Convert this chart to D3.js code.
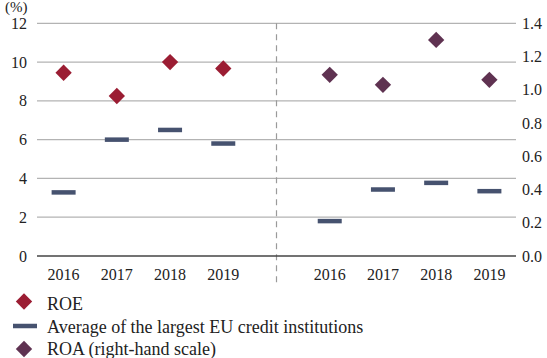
<!DOCTYPE html>
<html>
<head>
<meta charset="utf-8">
<script src="https://cdn.jsdelivr.net/npm/d3@7/dist/d3.min.js"></script>
<style>
  html, body { margin: 0; padding: 0; background: #fff; }
  svg { display: block; font-family: "Liberation Serif", "Times New Roman", serif; }
</style>
</head>
<body>
<svg id="chart" width="547" height="358"></svg>
<script>
// Years shown in each panel
const years = ["2016", "2017", "2018", "2019"];
// Left panel (%, left scale)
const roe = [9.45, 8.25, 10.0, 9.67];
const roeEuAvg = [3.28, 6.0, 6.5, 5.8];
// Right panel (%, right scale)
const roa = [1.09, 1.03, 1.30, 1.06];
const roaEuAvg = [0.21, 0.40, 0.44, 0.39];
// Axis ticks
const leftTicks = [0, 2, 4, 6, 8, 10, 12];
const rightTicks = [0, 0.2, 0.4, 0.6, 0.8, 1.0, 1.2, 1.4];
const legendItems = ["ROE", "Average of the largest EU credit institutions", "ROA (right-hand scale)"];

const colors = { roe: "#9b1d33", roa: "#5f3251", avg: "#46526f", grid: "#b3b3b3", axis: "#444" };

const svg = d3.select("#chart");
const m = { left: 37, right: 516, top: 23.3, bottom: 256 };

// Nine slots: four left-panel years, a divider slot, four right-panel years
const slots = years.map(y => "L" + y).concat(["gap"], years.map(y => "R" + y));
const x = d3.scaleBand().domain(slots).range([m.left, m.right]).paddingInner(0).paddingOuter(0);
const cx = k => x(k) + x.bandwidth() / 2;

const yL = d3.scaleLinear().domain([0, 12]).range([m.bottom, m.top]);
const yR = d3.scaleLinear().domain([0, 1.4]).range([m.bottom, m.top]);

// Gridlines
svg.append("g").selectAll("line").data(leftTicks.filter(t => t > 0)).join("line")
  .attr("x1", m.left).attr("x2", m.right)
  .attr("y1", d => yL(d)).attr("y2", d => yL(d))
  .attr("stroke", colors.grid).attr("stroke-width", 1.2);

// Divider between panels
svg.append("line")
  .attr("x1", cx("gap")).attr("x2", cx("gap"))
  .attr("y1", m.top).attr("y2", 285)
  .attr("stroke", "#9a9a9a").attr("stroke-width", 1.2)
  .attr("stroke-dasharray", "6,5");

// Zero line
svg.append("line")
  .attr("x1", m.left).attr("x2", m.right)
  .attr("y1", yL(0)).attr("y2", yL(0))
  .attr("stroke", colors.axis).attr("stroke-width", 1.5);

// Left axis
const leftAxis = svg.append("g").attr("transform", `translate(${m.left - 10},0)`)
  .call(d3.axisLeft(yL).tickValues(leftTicks).tickSize(0).tickPadding(0).tickFormat(d3.format("d")));
leftAxis.select(".domain").remove();
leftAxis.selectAll("text").attr("font-size", 16).attr("fill", "#222")
  .attr("font-family", "Liberation Serif, serif");

// Right axis
const rightAxis = svg.append("g").attr("transform", `translate(${m.right + 6},0)`)
  .call(d3.axisRight(yR).tickValues(rightTicks).tickSize(0).tickPadding(0).tickFormat(d3.format(".1f")));
rightAxis.select(".domain").remove();
rightAxis.selectAll("text").attr("font-size", 16).attr("fill", "#222")
  .attr("font-family", "Liberation Serif, serif");

// Unit label
svg.append("text").attr("x", 5).attr("y", 12).attr("font-size", 15).attr("fill", "#222").text("(%)");

// Year labels
const yearKeys = slots.filter(s => s !== "gap");
svg.append("g").selectAll("text").data(yearKeys).join("text")
  .attr("x", d => cx(d)).attr("y", 280)
  .attr("text-anchor", "middle").attr("font-size", 16).attr("fill", "#222")
  .text(d => d.slice(1));

const diamond = d3.symbol().type(d3.symbolDiamond2).size(170);
const barW = 24, barH = 4.5;

// Left panel: ROE and EU average
svg.append("g").selectAll("rect").data(roeEuAvg).join("rect")
  .attr("x", (d, i) => cx("L" + years[i]) - barW / 2)
  .attr("y", d => yL(d) - barH / 2)
  .attr("width", barW).attr("height", barH).attr("fill", colors.avg);
svg.append("g").selectAll("path").data(roe).join("path")
  .attr("d", diamond)
  .attr("transform", (d, i) => `translate(${cx("L" + years[i])},${yL(d)})`)
  .attr("fill", colors.roe);

// Right panel: ROA and EU average
svg.append("g").selectAll("rect").data(roaEuAvg).join("rect")
  .attr("x", (d, i) => cx("R" + years[i]) - barW / 2)
  .attr("y", d => yR(d) - barH / 2)
  .attr("width", barW).attr("height", barH).attr("fill", colors.avg);
svg.append("g").selectAll("path").data(roa).join("path")
  .attr("d", diamond)
  .attr("transform", (d, i) => `translate(${cx("R" + years[i])},${yR(d)})`)
  .attr("fill", colors.roa);

// Legend
const lg = svg.append("g");
const ly = [301.5, 326, 349];
const lb = [309.5, 332.5, 355];
lg.append("path").attr("d", diamond).attr("transform", `translate(24,${ly[0]})`).attr("fill", colors.roe);
lg.append("rect").attr("x", 13).attr("y", ly[1] - 2.25).attr("width", 24).attr("height", 4.5).attr("fill", colors.avg);
lg.append("path").attr("d", diamond).attr("transform", `translate(24,${ly[2]})`).attr("fill", colors.roa);
lg.selectAll("text").data(legendItems).join("text")
  .attr("x", 47).attr("y", (d, i) => lb[i])
  .attr("font-size", 18).attr("fill", "#222").text(d => d);
</script>
</body>
</html>
